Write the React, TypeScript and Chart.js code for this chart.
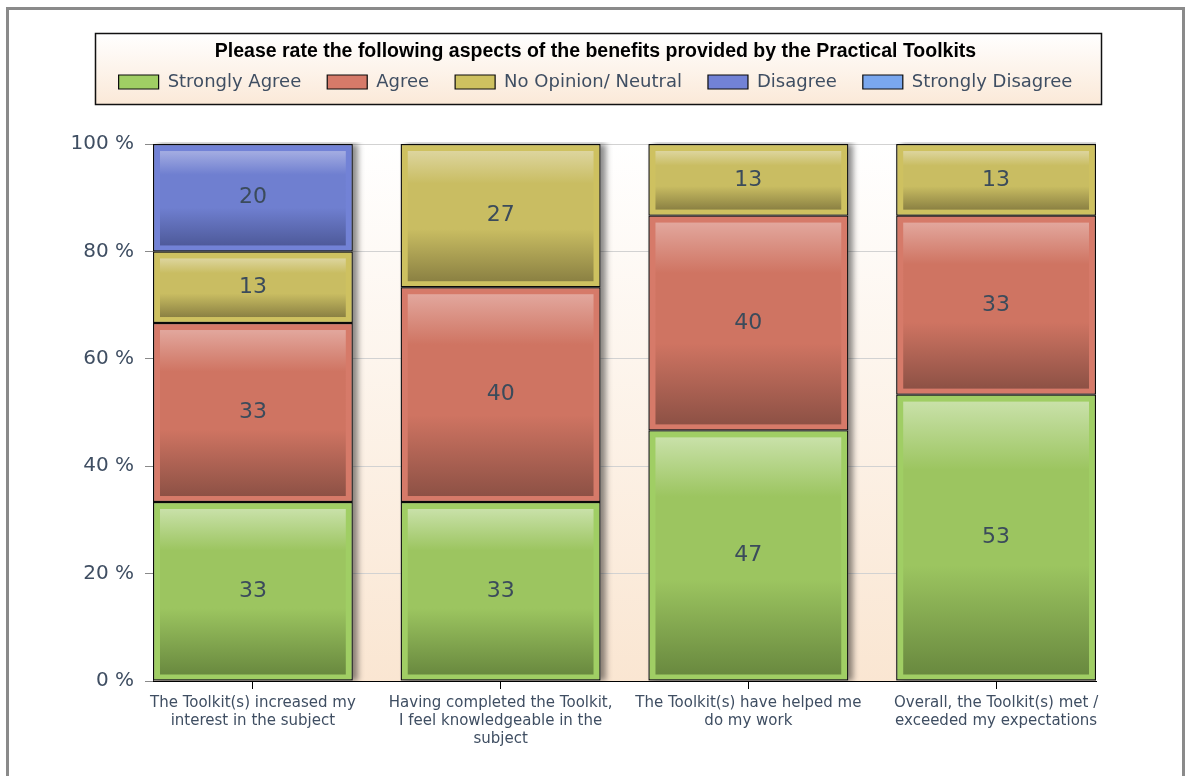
import React, { useEffect, useRef } from 'react';
import { Chart, registerables } from 'chart.js';

Chart.register(...registerables);

const chartTitle = 'Please rate the following aspects of the benefits provided by the Practical Toolkits';

const categories = [
  'The Toolkit(s) increased my interest in the subject',
  'Having completed the Toolkit, I feel knowledgeable in the subject',
  'The Toolkit(s) have helped me do my work',
  'Overall, the Toolkit(s) met / exceeded my expectations',
];

const categoryLines = [
  ['The Toolkit(s) increased my', 'interest in the subject'],
  ['Having completed the Toolkit,', 'I feel knowledgeable in the', 'subject'],
  ['The Toolkit(s) have helped me', 'do my work'],
  ['Overall, the Toolkit(s) met /', 'exceeded my expectations'],
];

const seriesNames = ['Strongly Agree', 'Agree', 'No Opinion/ Neutral', 'Disagree', 'Strongly Disagree'];

const stronglyAgree = [33.33, 33.33, 46.67, 53.33];
const agree = [33.33, 40, 40, 33.33];
const neutral = [13.33, 26.67, 13.33, 13.33];
const disagree = [20, 0, 0, 0];
const stronglyDisagree = [0, 0, 0, 0];

const yMin = 0;
const yMax = 100;
const yStep = 20;

const palette = [
  { band: '#A0CE64', light: '#C9E1A9', mid: '#9CC560', dark: '#69893F' },
  { band: '#D67A69', light: '#E2A79D', mid: '#CF7462', dark: '#8D5145' },
  { band: '#CEC160', light: '#DDD59E', mid: '#C9BD62', dark: '#8B8143' },
  { band: '#7282D6', light: '#A4ADE2', mid: '#6F7FD0', dark: '#4E5A9A' },
  { band: '#7AA7EE', light: '#A9C6F4', mid: '#7AA7EE', dark: '#4F74B0' },
];

const textColor = '#3f4e62';

const decorPlugin = {
  id: 'decor',
  beforeDraw(chart: any) {
    const { ctx, width, height, chartArea } = chart;
    ctx.save();
    ctx.fillStyle = '#ffffff';
    ctx.fillRect(0, 0, width, height);
    // outer frame
    ctx.strokeStyle = '#8a8a8a';
    ctx.lineWidth = 3;
    ctx.strokeRect(7.5, 8.5, width - 15, height + 20);
    // legend box
    const lg = chart.legend;
    if (lg && lg.legendHitBoxes && lg.legendHitBoxes.length) {
      const hb = lg.legendHitBoxes;
      const l = Math.min(...hb.map((h: any) => h.left)) - 24;
      const r = Math.max(...hb.map((h: any) => h.left + h.width)) + 28;
      const t = hb[0].top - 40;
      const b = hb[0].top + hb[0].height + 13;
      const g = ctx.createLinearGradient(0, t, 0, b);
      g.addColorStop(0, '#FFFFFF');
      g.addColorStop(1, '#FBE9D8');
      ctx.fillStyle = g;
      ctx.fillRect(l, t, r - l, b - t);
      ctx.strokeStyle = '#111111';
      ctx.lineWidth = 1.5;
      ctx.strokeRect(Math.round(l) + 0.5, Math.round(t) + 0.5, Math.round(r - l), Math.round(b - t));
    }
    // plot area background
    const g2 = ctx.createLinearGradient(0, chartArea.top, 0, chartArea.bottom);
    g2.addColorStop(0, '#FFFFFF');
    g2.addColorStop(1, '#FAE6D2');
    ctx.fillStyle = g2;
    ctx.fillRect(chartArea.left, chartArea.top, chartArea.right - chartArea.left, chartArea.bottom - chartArea.top);
    ctx.restore();
  },
  beforeDatasetsDraw(chart: any) {
    // drop shadows to the right of each stacked bar
    const { ctx, chartArea } = chart;
    ctx.save();
    ctx.beginPath();
    ctx.rect(chartArea.left, chartArea.top - 2, chartArea.right - chartArea.left, chartArea.bottom - chartArea.top + 2);
    ctx.clip();
    ctx.shadowColor = 'rgba(0,0,0,0.45)';
    ctx.shadowBlur = 6;
    ctx.shadowOffsetX = 5;
    ctx.shadowOffsetY = 0;
    ctx.fillStyle = '#888888';
    const n = chart.data.labels.length;
    for (let i = 0; i < n; i++) {
      let top = Infinity;
      let bottom = -Infinity;
      let x = 0;
      let w = 0;
      chart.data.datasets.forEach((ds: any, di: number) => {
        const bar: any = chart.getDatasetMeta(di).data[i];
        if (!bar || !ds.data[i]) return;
        const p = bar.getProps(['x', 'y', 'base', 'width'], true);
        top = Math.min(top, p.y, p.base);
        bottom = Math.max(bottom, p.y, p.base);
        x = p.x;
        w = p.width;
      });
      if (isFinite(top)) ctx.fillRect(x - w / 2, top, w, bottom - top);
    }
    ctx.restore();
  },
  afterDatasetsDraw(chart: any) {
    const ctx = chart.ctx;
    ctx.save();
    const labels: any[] = [];
    chart.data.datasets.forEach((ds: any, di: number) => {
      const meta = chart.getDatasetMeta(di);
      const pal = palette[di];
      meta.data.forEach((bar: any, i: number) => {
        const v = ds.data[i] as number;
        if (!v) return;
        const { x, y, base, width } = bar.getProps(['x', 'y', 'base', 'width'], true);
        const top = Math.min(y, base);
        const bottom = Math.max(y, base);
        const il = x - width / 2 + 7;
        const ir = x + width / 2 - 7;
        const it = top + 7;
        const ib = bottom - 6;
        if (ib - it > 2) {
          const g = ctx.createLinearGradient(0, it, 0, ib);
          g.addColorStop(0, pal.light);
          g.addColorStop(0.25, pal.mid);
          g.addColorStop(0.6, pal.mid);
          g.addColorStop(1, pal.dark);
          ctx.fillStyle = g;
          ctx.fillRect(il, it, ir - il, ib - it);
        }
        labels.push({ text: String(Math.round(v)), x, y: (top + bottom) / 2 });
      });
    });
    ctx.font = '22px "DejaVu Sans"';
    ctx.fillStyle = '#3b4b5b';
    ctx.textAlign = 'center';
    ctx.textBaseline = 'middle';
    labels.forEach((lb) => ctx.fillText(lb.text, lb.x, lb.y));
    ctx.restore();
  },
};

export default function App() {
  const ref = useRef<HTMLCanvasElement>(null);

  useEffect(() => {
    const canvas = ref.current;
    if (!canvas) return;
    const seriesData = [stronglyAgree, agree, neutral, disagree, stronglyDisagree];
    const halfBar = 100 / 248;
    const chart = new Chart(canvas, {
      type: 'bar',
      data: {
        labels: categories.map((_, i) => i),
        datasets: seriesNames.map((name, k) => ({
          label: name,
          data: seriesData[k],
          backgroundColor: palette[k].band,
          borderColor: '#0a0a0a',
          borderWidth: 1.2,
          borderSkipped: false,
          barPercentage: 200 / 248,
          categoryPercentage: 1,
        })),
      },
      options: {
        responsive: false,
        animation: false,
        devicePixelRatio: 1,
        layout: { padding: 0 },
        font: { family: '"DejaVu Sans"' },
        plugins: {
          tooltip: { enabled: false },
          title: {
            display: true,
            text: chartTitle,
            color: '#000000',
            font: { family: '"Liberation Sans"', size: 19.5, weight: 'bold' },
            padding: { top: 40, bottom: -16.4 },
          },
          legend: {
            display: true,
            position: 'top',
            labels: {
              boxWidth: 40,
              boxHeight: 14,
              padding: 26,
              color: textColor,
              font: { family: '"DejaVu Sans"', size: 18 },
            },
          },
          subtitle: {
            display: true,
            text: '',
            weight: 500,
            font: { size: 43, lineHeight: 1 },
            padding: 0,
          },
        },
        scales: {
          x: {
            type: 'linear',
            stacked: true,
            offset: false,
            min: -halfBar,
            max: categories.length - 1 + halfBar,
            afterBuildTicks: (s: any) => {
              s.ticks = categories.map((_, i) => ({ value: i }));
            },
            afterFit: (s: any) => {
              s.height = 95;
            },
            grid: {
              display: true,
              offset: false,
              drawOnChartArea: false,
              drawTicks: true,
              tickLength: 8,
              tickColor: '#000000',
            },
            border: { display: true, color: '#000000', width: 1 },
            ticks: {
              autoSkip: false,
              maxRotation: 0,
              minRotation: 0,
              padding: 5,
              color: textColor,
              font: { family: '"DejaVu Sans"', size: 15 },
              callback: (v: any) => categoryLines[Math.round(Number(v))] || '',
            },
          },
          y: {
            type: 'linear',
            stacked: true,
            min: yMin,
            max: yMax,
            afterFit: (s: any) => {
              s.width = 153;
            },
            grid: {
              color: '#d2d2d2',
              tickColor: '#8a8a8a',
              tickLength: 8,
            },
            border: { display: true, color: '#000000', width: 1 },
            ticks: {
              stepSize: yStep,
              padding: 11,
              color: textColor,
              font: { family: '"DejaVu Sans"', size: 20 },
              callback: (v: any) => `${v} %`,
            },
          },
          yRight: {
            type: 'linear',
            position: 'right',
            display: true,
            grid: { display: false },
            border: { display: false },
            ticks: { display: false },
            afterFit: (s: any) => {
              s.width = 95;
            },
          },
        },
      },
      plugins: [decorPlugin],
    } as any);
    return () => chart.destroy();
  }, []);

  return (
    <div style={{ position: 'absolute', left: 0, top: 0, width: 1191, height: 776 }}>
      <canvas ref={ref} width={1191} height={776} style={{ display: 'block' }} />
    </div>
  );
}
